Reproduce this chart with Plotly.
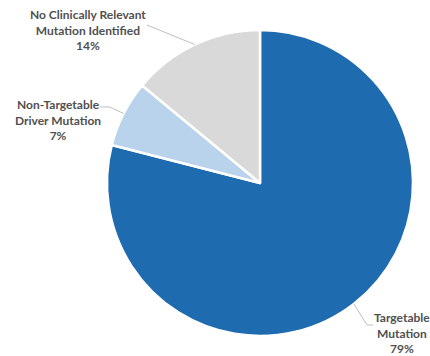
import math
import plotly.graph_objects as go

labels = ["Targetable<br>Mutation", "Non-Targetable<br>Driver Mutation", "No Clinically Relevant<br>Mutation Identified"]
values = [79, 7, 14]
colors = ["#1F6BB0", "#B9D3EC", "#D9D9D9"]

W, H = 430, 356
cx, cy, r = 260, 183, 153  # pie centre / radius in pixels

fig = go.Figure(go.Pie(
    labels=labels, values=values, sort=False, direction="clockwise", rotation=0,
    textinfo="none", hoverinfo="skip", showlegend=False,
    marker=dict(colors=colors, line=dict(color="white", width=2.5)),
    domain=dict(x=[(cx - r) / W, (cx + r) / W], y=[1 - (cy + r) / H, 1 - (cy - r) / H]),
))

# label anchor points (px) and leader elbow points
label_pos = [(402, 333), (58, 120), (88, 30)]
elbows = [[(367, 325), (373, 325)], [(110, 107), (100, 107)], [(147, 25)]]

def px(x, y):
    return x / W, 1 - y / H

total = sum(values)
cum = 0
for lab, v, (lx, ly), elb in zip(labels, values, label_pos, elbows):
    mid = (cum + v / 2) / total * 2 * math.pi
    cum += v
    ex = cx + r * math.sin(mid)
    ey = cy - r * math.cos(mid)
    pts = [(ex, ey)] + elb
    for (x0, y0), (x1, y1) in zip(pts[:-1], pts[1:]):
        a0, b0 = px(x0, y0)
        a1, b1 = px(x1, y1)
        fig.add_shape(type="line", xref="paper", yref="paper", x0=a0, y0=b0, x1=a1, y1=b1,
                      line=dict(color="#BFBFBF", width=1))
    ax_, ay_ = px(lx, ly)
    fig.add_annotation(x=ax_, y=ay_, xref="paper", yref="paper", showarrow=False,
                       xanchor="center", yanchor="middle",
                       text=f"<b>{lab}<br>{v}%</b>", align="center",
                       font=dict(family="Lato", size=12, color="#505050"))

fig.update_layout(width=W, height=H, margin=dict(l=0, r=0, t=0, b=0),
                  paper_bgcolor="white", plot_bgcolor="white")
fig.write_html("out.html")
